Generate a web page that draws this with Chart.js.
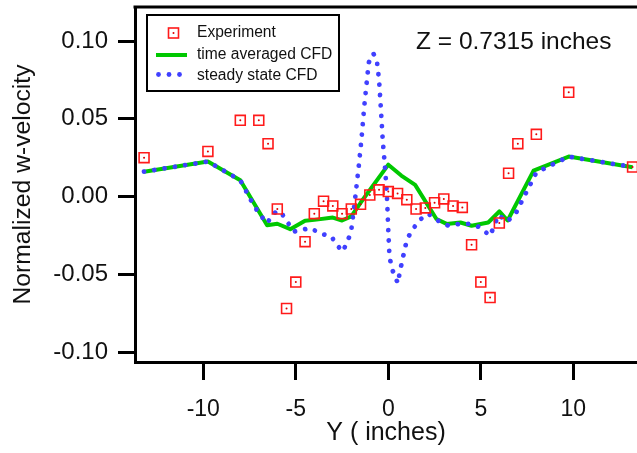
<!DOCTYPE html>
<html>
<head>
<meta charset="utf-8">
<script src="https://cdn.jsdelivr.net/npm/chart.js@4.4.1/dist/chart.umd.min.js"></script>
<style>
  html, body { margin: 0; padding: 0; background: #fff; }
  #c { display: block; }
</style>
</head>
<body>
<canvas id="c" width="637" height="453"></canvas>
<script>
// ---- data ----
const expX = [-13.2, -9.75, -8.0, -7.0, -6.5, -6.0, -5.5, -5.0, -4.5, -4.0, -3.5, -3.0, -2.5, -2.0, -1.5, -1.0, -0.5, 0.0, 0.5, 1.0, 1.5, 2.0, 2.5, 3.0, 3.5, 4.0, 4.5, 5.0, 5.5, 6.0, 6.5, 7.0, 8.0, 9.75, 13.2];
const expY = [0.025, 0.029, 0.049, 0.049, 0.034, -0.008, -0.072, -0.055, -0.029, -0.011, -0.003, -0.006, -0.011, -0.008, -0.005, 0.001, 0.0043, 0.0032, 0.002, -0.002, -0.008, -0.0073, -0.004, -0.0015, -0.006, -0.007, -0.031, -0.055, -0.065, -0.017, 0.015, 0.034, 0.040, 0.067, 0.019];

const tavgX = [-13.2, -9.75, -8.0, -6.55, -6.0, -5.3, -4.5, -4.0, -3.0, -2.5, -2.0, -1.5, 0.0, 0.7, 1.45, 2.6, 3.15, 3.9, 4.5, 5.4, 6.0, 6.45, 7.85, 9.75, 13.2];
const tavgY = [0.016, 0.0225, 0.0105, -0.0185, -0.0175, -0.021, -0.0155, -0.015, -0.0135, -0.0154, -0.0128, -0.004, 0.0205, 0.0135, 0.0075, -0.0144, -0.0176, -0.0167, -0.0188, -0.0167, -0.0096, -0.0154, 0.0167, 0.0257, 0.0189];

const ssX = [-13.2, -9.75, -8.0, -7.35, -7.0, -6.55, -6.2, -5.85, -5.5, -5.1, -4.7, -4.2, -3.65, -3.1, -2.75, -2.47, -2.2, -2.0, -1.8, -1.6, -1.45, -1.3, -1.18, -1.06, -0.95, -0.8, -0.62, -0.5, -0.4, -0.3, -0.18, -0.08, 0.0, 0.06, 0.18, 0.36, 0.52, 0.63, 0.86, 1.0, 1.26, 1.7, 2.15, 2.7, 3.25, 3.8, 4.4, 4.95, 5.5, 5.72, 5.95, 6.43, 6.9, 7.45, 8.0, 9.75, 13.2];
const ssY = [0.016, 0.0225, 0.0105, -0.004, -0.0107, -0.0172, -0.0107, -0.0092, -0.0156, -0.0225, -0.0214, -0.0203, -0.024, -0.0253, -0.0315, -0.0354, -0.029, -0.0215, -0.002, 0.0193, 0.037, 0.058, 0.072, 0.0858, 0.0905, 0.0918, 0.0875, 0.075, 0.056, 0.036, 0.019, 0.002, -0.022, -0.038, -0.046, -0.0514, -0.0558, -0.048, -0.0354, -0.028, -0.022, -0.015, -0.011, -0.0156, -0.0188, -0.0176, -0.0176, -0.0197, -0.0253, -0.0188, -0.0118, -0.0161, -0.0105, 0.0026, 0.0155, 0.0257, 0.019];

const xTicks = [-10, -5, 0, 5, 10];
const yTicks = [-0.10, -0.05, 0.00, 0.05, 0.10];

const seriesNames = ['Experiment', 'time averaged CFD', 'steady state CFD'];
const annotationText = 'Z = 0.7315 inches';
const xTitle = 'Y ( inches)';
const yTitle = 'Normalized w-velocity';

// ---- styling ----
const FONT = '"Liberation Sans", Arial, Helvetica, sans-serif';
const RED = '#ff1a1a';
const GREEN = '#00c800';
const BLUE = '#4040ff';

const pts = (xs, ys) => xs.map((x, i) => ({ x: x, y: ys[i] }));

const frameAndLegend = {
  id: 'frameAndLegend',
  afterDraw(chart) {
    const ctx = chart.ctx;
    const a = chart.chartArea;
    ctx.save();
    // top border of the frame
    ctx.strokeStyle = '#000';
    ctx.lineWidth = 3;
    ctx.beginPath();
    ctx.moveTo(a.left - 1.5, a.top);
    ctx.lineTo(a.right, a.top);
    ctx.stroke();

    // legend box
    const bx = 147, by = 15, bw = 192, bh = 76;
    ctx.fillStyle = '#fff';
    ctx.fillRect(bx, by, bw, bh);
    ctx.lineWidth = 2;
    ctx.strokeStyle = '#000';
    ctx.strokeRect(bx, by, bw, bh);

    // Experiment symbol
    ctx.strokeStyle = RED;
    ctx.lineWidth = 1.6;
    ctx.strokeRect(168.5, 28, 10, 10);
    ctx.fillStyle = '#d00';
    ctx.beginPath(); ctx.arc(173.5, 33, 1, 0, Math.PI * 2); ctx.fill();

    // time averaged line
    ctx.strokeStyle = GREEN;
    ctx.lineWidth = 4;
    ctx.beginPath(); ctx.moveTo(156, 55); ctx.lineTo(187, 55); ctx.stroke();

    // steady state dots
    ctx.fillStyle = BLUE;
    [158.5, 169, 179.5].forEach(x => { ctx.beginPath(); ctx.arc(x, 74.5, 2.4, 0, Math.PI * 2); ctx.fill(); });

    ctx.fillStyle = '#111';
    ctx.font = '15.6px ' + FONT;
    ctx.textBaseline = 'middle';
    ctx.textAlign = 'left';
    ctx.fillText(seriesNames[0], 197, 33);
    ctx.fillText(seriesNames[1], 197, 55);
    ctx.fillText(seriesNames[2], 197, 76);

    // annotation
    ctx.font = '24.5px ' + FONT;
    ctx.textBaseline = 'alphabetic';
    ctx.fillText(annotationText, 416, 48.5);
    ctx.restore();
  }
};

new Chart(document.getElementById('c'), {
  type: 'scatter',
  data: {
    datasets: [
      {
        label: seriesNames[0],
        data: pts(expX, expY),
        showLine: false,
        pointStyle: 'rect',
        pointRadius: 7,
        pointHoverRadius: 7,
        borderColor: RED,
        backgroundColor: 'rgba(0,0,0,0)',
        pointBorderWidth: 1.6,
        clip: false,
        order: 0
      },
      {
        label: 'center',
        data: pts(expX, expY),
        showLine: false,
        pointStyle: 'circle',
        pointRadius: 1,
        pointBorderWidth: 0,
        backgroundColor: '#d00',
        borderColor: '#d00',
        clip: false,
        order: 0
      },
      {
        label: seriesNames[2],
        data: pts(ssX, ssY),
        showLine: true,
        borderColor: BLUE,
        borderWidth: 4.8,
        borderDash: [0.01, 10.4],
        borderCapStyle: 'round',
        pointRadius: 0,
        tension: 0,
        order: 1
      },
      {
        label: seriesNames[1],
        data: pts(tavgX, tavgY),
        showLine: true,
        borderColor: GREEN,
        borderWidth: 4,
        borderJoinStyle: 'round',
        pointRadius: 0,
        tension: 0,
        order: 2
      }
    ]
  },
  options: {
    responsive: false,
    animation: false,
    devicePixelRatio: 1,
    layout: { autoPadding: false, padding: { top: 7, right: 0, left: 0, bottom: 0 } },
    plugins: {
      legend: { display: false },
      tooltip: { enabled: false }
    },
    scales: {
      x: {
        type: 'linear',
        min: -13.69,
        max: 13.44,
        afterBuildTicks: s => { s.ticks = xTicks.map(v => ({ value: v })); },
        afterFit: s => { s.height = 91; s.paddingLeft = 0; s.paddingRight = 0; },
        grid: { drawOnChartArea: false, drawTicks: true, tickLength: 18, tickWidth: 3, color: '#000' },
        border: { display: true, width: 3, color: '#000' },
        ticks: {
          color: '#111',
          font: { family: FONT, size: 23 },
          padding: 16,
          maxRotation: 0,
          callback: v => String(v)
        },
        title: {
          display: true,
          text: xTitle,
          color: '#111',
          font: { family: FONT, size: 25 },
          padding: { top: 0, bottom: 5 }
        }
      },
      y: {
        type: 'linear',
        min: -0.1064,
        max: 0.1219,
        afterBuildTicks: s => { s.ticks = yTicks.map(v => ({ value: v })); },
        afterFit: s => { s.width = 135; s.paddingTop = 0; s.paddingBottom = 0; },
        grid: { drawOnChartArea: false, drawTicks: true, tickLength: 17, tickWidth: 3, color: '#000' },
        border: { display: true, width: 3, color: '#000' },
        ticks: {
          color: '#111',
          font: { family: FONT, size: 24 },
          padding: 10,
          callback: v => v.toFixed(2)
        },
        title: {
          display: true,
          text: yTitle,
          color: '#111',
          font: { family: FONT, size: 24.7 },
          padding: { top: 8, bottom: 0 }
        }
      }
    }
  },
  plugins: [frameAndLegend]
});
</script>
</body>
</html>
